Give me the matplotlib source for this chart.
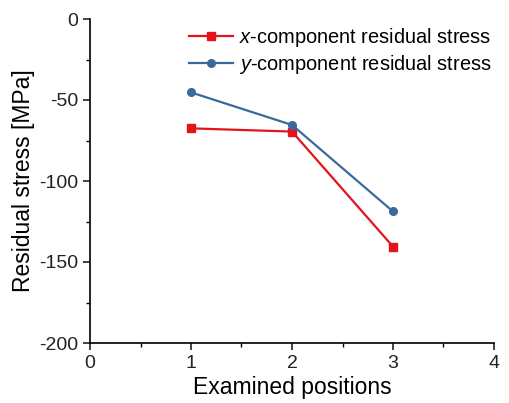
import matplotlib
matplotlib.use("Agg")
import matplotlib.pyplot as plt
from matplotlib.ticker import MultipleLocator

positions = [1, 2, 3]
x_component = [-67.5, -69.5, -140.5]
y_component = [-45.3, -65.4, -118.8]
labels = ["$x$-component residual stress", "$y$-component residual stress"]

plt.rcParams['font.family'] = ['Liberation Sans', 'DejaVu Sans']
plt.rcParams['mathtext.fontset'] = 'custom'
plt.rcParams['mathtext.it'] = 'Liberation Sans:italic'
plt.rcParams['mathtext.rm'] = 'Liberation Sans'
plt.rcParams['axes.unicode_minus'] = False

fig = plt.figure(figsize=(5.10, 4.03), dpi=100)
ax = fig.add_axes([90/510, 1-343/403, (494-90)/510, (343-19)/403])

ax.plot(positions, x_component, color='#e3141b', marker='s', markersize=5.5, lw=1.6, label=labels[0])
ax.plot(positions, y_component, color='#3a6a9c', marker='o', markersize=5.5, lw=1.6, label=labels[1])

ax.set_xlim(0, 4)
ax.set_ylim(-200, 0)
ax.xaxis.set_major_locator(MultipleLocator(1))
ax.xaxis.set_minor_locator(MultipleLocator(0.5))
ax.yaxis.set_major_locator(MultipleLocator(50))
ax.yaxis.set_minor_locator(MultipleLocator(25))
ax.spines['top'].set_visible(False)
ax.spines['right'].set_visible(False)
for s in ('left', 'bottom'):
    ax.spines[s].set_linewidth(1.2)
ax.tick_params(which='major', direction='out', length=5, width=1.2, labelsize=14, colors='#222222')
ax.tick_params(which='minor', direction='out', length=3, width=1.0)
ax.set_xlabel("Examined positions", fontsize=16.5, labelpad=3)
ax.set_ylabel("Residual stress [MPa]", fontsize=16.5, labelpad=3)

ax.legend(loc='upper right', bbox_to_anchor=(1.013, 1.003), frameon=False, fontsize=14.4,
          handlelength=2.2, handletextpad=0.3, labelspacing=0.2, borderaxespad=0.0)

fig.savefig("out.png", dpi=100)
